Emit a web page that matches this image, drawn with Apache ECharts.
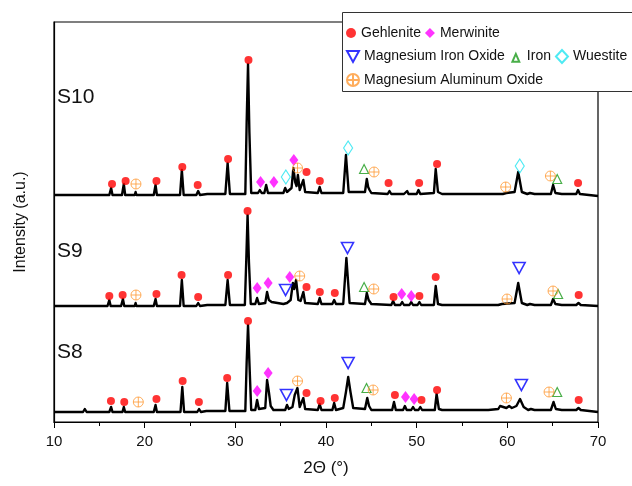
<!DOCTYPE html>
<html>
<head>
<meta charset="utf-8">
<script src="https://cdn.jsdelivr.net/npm/echarts@6/dist/echarts.min.js"></script>
<style>
  html, body { margin: 0; padding: 0; background: #fff; }
  #chart { width: 632px; height: 486px; }
</style>
</head>
<body>
<div id="chart"></div>
<script>
// xrd patterns, [2theta, intensity] (offset for stacking)
let s10 = [[10,227],[13.3,227],[13.4,229],[13.5,227],[16.1,227],[16.3,234],[16.45,227],[17.5,227],[17.7,238],[17.85,227],
  [18.9,227],[19.0,230],[19.1,227],[21.0,227],[21.2,237],[21.35,227],[23.0,227],[23.1,229],[23.2,227],[23.9,227],[24.1,252],
  [24.3,227],[25.7,227],[25.9,231],[26.1,227],[26.9,228],[27.0,229],[27.1,228],[28.9,228],[29.15,259],[29.4,228],[31.1,228],
  [31.25,300],[31.4,358],[31.55,290],[31.75,229],[32.5,229],[32.7,232],[32.9,229],[33.2,229],[33.4,237],[33.6,229],[35.3,229],
  [35.5,234],[35.7,230],[36.2,234],[36.4,254],[36.6,240],[36.75,236],[36.9,247],[37.1,232],[37.3,233],[37.5,242],[37.7,230],
  [39.1,229],[39.3,235],[39.5,229],[41.9,229],[42.2,267],[42.5,230],[44.3,230],[44.5,243],[44.65,235],[44.8,232],[45.0,229],
  [46.8,228],[47.0,231],[47.2,228],[48.3,228],[48.45,230],[48.6,228],[48.8,228],[48.95,231],[49.1,228],[50.0,228],[50.2,232],
  [50.4,228],[51.9,229],[52.1,253],[52.35,230],[52.8,228],[53.0,230],[53.2,228],[56.0,228],[56.2,229],[56.4,228],[57.5,228],
  [57.7,229],[57.9,228],[59.5,228],[59.7,230],[59.9,229],[60.8,230],[61.2,250],[61.6,230],[62.2,228],[62.5,229],[63.0,228],
  [64.8,228],[65.05,237],[65.3,229],[66.0,228],[66.2,230],[66.4,228],[67.6,228],[67.8,232],[68.0,228],[70,226]];

let s9 = [[10,116],[13.3,116],[13.4,118],[13.5,116],[15.9,116],[16.1,122],[16.25,116],[17.4,116],[17.6,123],[17.75,116],
  [18.9,116],[19.0,119],[19.1,116],[21.0,116],[21.2,123],[21.35,116],[23.0,116],[23.1,118],[23.2,116],[23.9,116],[24.1,142],
  [24.3,116],[25.7,116],[25.9,119],[26.1,116],[26.9,117],[27.0,118],[27.1,117],[28.9,117],[29.15,142],[29.4,117],[31.05,117],
  [31.2,160],[31.35,207],[31.5,160],[31.7,118],[32.2,118],[32.4,124],[32.6,118],[33.3,119],[33.5,130],[33.7,122],[34.0,120],
  [34.2,118],[35.3,118],[35.5,120],[35.7,119],[36.1,122],[36.35,139],[36.5,133],[36.7,142],[36.95,122],[37.2,121],[37.5,130],
  [37.7,119],[39.1,118],[39.3,124],[39.5,118],[40.7,118],[40.9,122],[41.1,118],[41.9,118],[42.25,164],[42.6,119],[44.3,118],
  [44.5,129],[44.7,122],[45.0,118],[47.2,117],[47.4,121],[47.6,117],[48.2,117],[48.4,120],[48.6,117],[49.2,117],[49.4,120],
  [49.6,117],[50.1,117],[50.3,120],[50.5,117],[51.9,117],[52.1,136],[52.35,118],[52.8,117],[53.0,119],[53.2,117],[56.0,117],
  [56.2,118],[56.4,117],[57.5,117],[57.7,118],[57.9,117],[59.0,117],[59.2,119],[59.4,118],[60.8,119],[61.2,139],[61.6,119],
  [62.2,117],[62.5,118],[63.0,117],[64.8,117],[65.05,123],[65.3,118],[66.0,117],[66.2,118],[66.4,117],[67.6,117],[67.85,119],
  [68.1,117],[70,116]];

let s8 = [[10,10],[13.2,10],[13.4,13],[13.6,10],[16.1,10],[16.3,15],[16.45,10],[17.55,10],[17.7,15],[17.85,10],[19.05,10],
  [19.2,12],[19.35,10],[21.0,10],[21.2,17],[21.35,10],[23.0,10],[23.1,12],[23.2,10],[23.95,10],[24.15,35],[24.35,10],
  [25.8,10],[26.0,13],[26.2,10],[26.8,11],[26.9,13],[27.0,11],[28.9,11],[29.1,39],[29.35,11],[31.1,11],[31.25,60],[31.4,97],
  [31.55,60],[31.75,12],[32.2,12],[32.4,22],[32.6,13],[33.3,14],[33.5,42],[33.7,30],[33.9,16],[34.2,12],[35.5,12],[35.7,17],
  [35.9,13],[36.3,15],[36.55,27],[36.7,25],[36.85,34],[37.1,15],[37.3,15],[37.5,24],[37.7,13],[39.1,12],[39.3,18],[39.5,12],
  [40.7,12],[40.9,19],[41.1,12],[41.9,14],[42.2,30],[42.45,45],[42.7,30],[43.0,14],[44.3,13],[44.55,24],[44.75,16],[45.0,12],
  [47.3,12],[47.5,20],[47.7,12],[48.5,12],[48.7,16],[48.9,12],[49.4,12],[49.6,15],[49.8,12],[50.2,12],[50.4,15],[50.6,12],
  [52.0,12],[52.2,28],[52.45,13],[52.8,12],[53.0,14],[53.2,12],[56.0,12],[56.2,13],[56.4,12],[57.5,12],[57.7,14],[57.9,12],
  [59.0,13],[59.2,16],[59.4,14],[59.9,14],[60.2,16],[60.5,14],[61.0,16],[61.4,23],[61.8,15],[62.3,12],[62.6,13],[63.0,12],
  [64.8,12],[65.1,20],[65.35,13],[66.0,12],[66.2,14],[66.4,12],[67.6,12],[67.85,14],[68.1,12],[70,10]];

// phase markers, [2theta, marker height]
let gehlenite = [[16.4,238],[17.9,241],[21.3,241],[24.15,255],[25.85,237],[29.2,263],[31.45,362],[37.85,250],[39.32,241],
  [46.9,239],[50.27,239],[52.25,258],[67.8,239],
  [16.1,126],[17.57,127],[21.3,128],[24.07,147],[25.9,125],[29.2,147],[31.35,211],[37.85,135],[39.32,130],[40.97,129],
  [47.45,125],[50.3,126],[52.1,145],[67.87,127],
  [16.28,21],[17.75,20],[21.3,23],[24.19,41],[25.98,20],[29.1,44],[31.4,101],[37.85,29],[39.4,21],[40.97,24],[47.6,27],
  [50.53,22],[52.25,32],[67.87,22]];
let merwinite = [[32.78,240],[34.25,240],[36.45,262],
  [32.41,134],[33.62,139],[36.0,145],[48.35,128],[49.4,126],
  [32.41,31],[33.62,49],[48.77,25],[49.72,23]];
let mgFeOxide = [[35.54,132],[42.37,174],[61.3,154],
  [35.64,27],[42.44,59],[61.55,37]];
let iron = [[44.2,253],[65.5,243],
  [44.2,135],[65.6,128],
  [44.47,34],[65.5,30]];
let wuestite = [[35.57,245],[42.44,274],[61.37,256]];
let mgAlOxide = [[19.04,238],[36.86,254],[45.3,250],[59.82,235],[64.75,246],
  [19.04,127],[37.1,146],[45.27,133],[59.97,123],[65.04,131],
  [19.3,20],[36.86,41],[45.2,32],[59.9,24],[64.6,30]];

let sampleNames = ['S10', 'S9', 'S8'];
let xTicks = [10, 20, 30, 40, 50, 60, 70];

let font = 'Arial, "Liberation Sans", sans-serif';
let chart = echarts.init(document.querySelector('#chart'));

function traceSeries(name, data) {
  return {
    name: name,
    type: 'line',
    data: data,
    showSymbol: false,
    silent: true,
    lineStyle: { color: '#000', width: 2.4, join: 'round' },
    z: 3
  };
}

function markerSeries(name, data, symbol, size, style) {
  return {
    name: name,
    type: 'scatter',
    data: data,
    symbol: symbol,
    symbolSize: size,
    itemStyle: style,
    z: 4
  };
}

let hollow = (c, w) => ({ color: 'rgba(255,255,255,0)', borderColor: c, borderWidth: w });
let circlePlus = 'path://M1,11A10,10,0,1,1,21,11A10,10,0,1,1,1,11ZM11,1L11,21M1,11L21,11';
let triDown = 'path://M0,0L12,0L6,11Z';
let smallTri = 'path://M0,0M14,14M3,13L7,4L11,13Z';

let legendText = { fontSize: 14, color: '#111', fontFamily: font };

let option = {
  animation: false,
  grid: { left: 54, right: 34, top: 22, bottom: 64, show: true, borderColor: '#000', borderWidth: 1.2 },
  xAxis: {
    type: 'value',
    min: xTicks[0],
    max: xTicks[xTicks.length - 1],
    interval: 10,
    name: '2Θ (°)',
    nameLocation: 'middle',
    nameGap: 38,
    nameTextStyle: { fontSize: 17, color: '#111', fontFamily: font },
    axisLine: { lineStyle: { color: '#000', width: 1.2 } },
    axisTick: { inside: false, length: 6, lineStyle: { color: '#000' } },
    minorTick: { show: true, splitNumber: 2, length: 4, lineStyle: { color: '#000' } },
    axisLabel: { fontSize: 15, color: '#111', fontFamily: font, margin: 12 },
    splitLine: { show: false }
  },
  yAxis: {
    type: 'value',
    min: 0,
    max: 400,
    name: 'Intensity (a.u.)',
    nameLocation: 'middle',
    nameGap: 25,
    nameTextStyle: { fontSize: 16, color: '#111', fontFamily: font },
    axisLine: { show: true, lineStyle: { color: '#000', width: 1.2 } },
    axisTick: { show: false },
    axisLabel: { show: false },
    splitLine: { show: false }
  },
  legend: [
    { data: ['Gehlenite', 'Merwinite'], left: 346, top: 26, width: 400, itemGap: 4, itemWidth: 10, itemHeight: 10, textStyle: legendText, padding: 0 },
    { data: [{ name: 'Magnesium Iron Oxide' }, { name: 'Iron', icon: smallTri }, { name: 'Wuestite' }],
      left: 346, top: 49, width: 400, itemGap: 4, itemWidth: 12, itemHeight: 13, textStyle: legendText, padding: 0 },
    { data: ['Magnesium Aluminum Oxide'], left: 346, top: 73, width: 400, itemGap: 6, itemWidth: 12, itemHeight: 12, textStyle: legendText, padding: 0 }
  ],
  graphic: [
    { type: 'rect', left: 342, top: 12, z: 1, shape: { width: 300, height: 79 }, style: { fill: '#fff', stroke: '#333', lineWidth: 1 } },
    { type: 'text', left: 57, top: 87, style: { text: sampleNames[0], fill: '#111', font: '21px ' + font } },
    { type: 'text', left: 57, top: 241, style: { text: sampleNames[1], fill: '#111', font: '21px ' + font } },
    { type: 'text', left: 57, top: 342, style: { text: sampleNames[2], fill: '#111', font: '21px ' + font } }
  ],
  series: [
    traceSeries(sampleNames[0], s10),
    traceSeries(sampleNames[1], s9),
    traceSeries(sampleNames[2], s8),
    markerSeries('Gehlenite', gehlenite, 'circle', 8, { color: '#ff0000' }),
    markerSeries('Merwinite', merwinite, 'diamond', [9, 12], { color: '#ff00ff' }),
    markerSeries('Magnesium Iron Oxide', mgFeOxide, triDown, [12, 11], hollow('#0000ff', 1.6)),
    markerSeries('Iron', iron, 'triangle', [9, 9], hollow('#1a9a1a', 1.2)),
    markerSeries('Wuestite', wuestite, 'diamond', [9, 14], hollow('#22e5f0', 1.2)),
    markerSeries('Magnesium Aluminum Oxide', mgAlOxide, circlePlus, 10, hollow('#ff9933', 1))
  ]
};

chart.setOption(option);
</script>
</body>
</html>
